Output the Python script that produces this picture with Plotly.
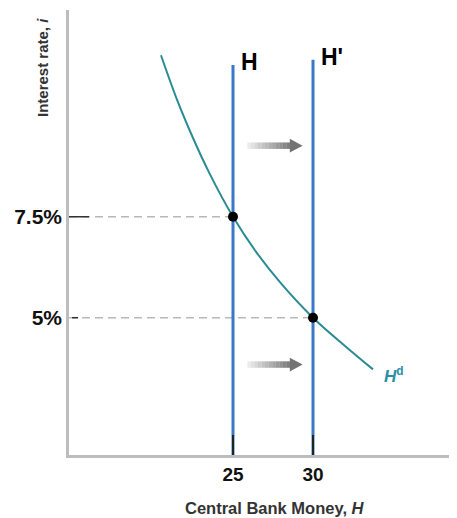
import plotly.graph_objects as go

# ---- data ----
supply_H = [25, 30]              # central bank money supply H, H'
supply_labels = ["H", "H'"]
supply_top = [11.26, 11.39]       # top of the vertical supply lines
eq_rates = [7.5, 5.0]             # equilibrium interest rates
rate_tick_labels = ["7.5%", "5%"]
money_tick_labels = ["25", "30"]

demand_H = [20.5, 21.5, 22.5, 23.5, 25.0, 26.5, 28.0, 30.0, 32.0, 33.75]
demand_i = [11.5, 10.4, 9.45, 8.6, 7.5, 6.6, 5.85, 5.0, 4.3, 3.72]

XR = [14.75, 39.0]
YR = [1.6, 12.62]

BLUE = "#3b78c8"
TEAL = "#2a8c93"
FONT = "Liberation Sans, Arial, sans-serif"

# page body has an 8px margin; the figure is sized so its plot area lands where the reference's is
W, H = 449, 510
ML, MR, MT, MB = 61, 0, 2, 63
PW, PH = W - ML - MR, H - MT - MB

fig = go.Figure()

# dashed guide lines
for h, r in zip(supply_H, eq_rates):
    fig.add_trace(go.Scatter(x=[XR[0], h], y=[r, r], mode="lines",
                             line=dict(color="#b8b8b8", width=1.5, dash="8px,5px"),
                             hoverinfo="skip", showlegend=False))

# supply lines
for h, top in zip(supply_H, supply_top):
    fig.add_trace(go.Scatter(x=[h, h], y=[YR[0], top], mode="lines",
                             line=dict(color=BLUE, width=3),
                             hoverinfo="skip", showlegend=False))

# demand curve
fig.add_trace(go.Scatter(x=demand_H, y=demand_i, mode="lines",
                         line=dict(color=TEAL, width=2, shape="spline", smoothing=1.0),
                         hoverinfo="skip", showlegend=False))

# equilibrium points
fig.add_trace(go.Scatter(x=supply_H, y=eq_rates, mode="markers",
                         marker=dict(color="black", size=10),
                         hoverinfo="skip", showlegend=False))

shapes = []
# y-axis tick marks (long at 7.5%, short dash at 5%)
tick_spans = [(0.0, 20 / PW), (3 / PW, 9 / PW)]
for r, (a, b) in zip(eq_rates, tick_spans):
    shapes.append(dict(type="line", xref="x domain", yref="y", x0=a, x1=b, y0=r, y1=r,
                       line=dict(color="#333333", width=1.5), layer="above"))

# gradient arrows (built from shapes)
arrow_y = [9.26, 3.84]
ax0, ax1, head = 25.9, 29.35, 0.8
half_shaft, half_head = 0.08, 0.17
nseg = 12
for ay in arrow_y:
    shaft_end = ax1 - head
    step = (shaft_end - ax0) / nseg
    for k in range(nseg):
        g = int(235 - (235 - 125) * k / (nseg - 1))
        col = f"rgb({g},{g},{g})"
        shapes.append(dict(type="rect", xref="x", yref="y",
                           x0=ax0 + k * step, x1=ax0 + (k + 1) * step + 0.01,
                           y0=ay - half_shaft, y1=ay + half_shaft,
                           fillcolor=col, line=dict(width=0), layer="above"))
    shapes.append(dict(type="path", xref="x", yref="y",
                       path=f"M {shaft_end} {ay - half_head} L {ax1} {ay} L {shaft_end} {ay + half_head} Z",
                       fillcolor="rgb(115,115,115)", line=dict(width=0), layer="above"))

annotations = []
for h, lab, top in zip(supply_H, supply_labels, supply_top):
    annotations.append(dict(x=h, y=top, xref="x", yref="y", text=f"<b>{lab}</b>",
                            showarrow=False, xanchor="left", yanchor="middle",
                            xshift=6, yshift=3,
                            font=dict(family=FONT, size=23, color="black")))
annotations.append(dict(x=demand_H[-1], y=demand_i[-1], xref="x", yref="y",
                        text="<b><i>H</i><sup>d</sup></b>", showarrow=False,
                        xanchor="left", yanchor="middle", xshift=9, yshift=-6,
                        font=dict(family=FONT, size=17, color="#2a8fa6")))
# rotated y title, centred at page (42, 68)
annotations.append(dict(x=(42 - 8 - ML) / PW, y=1 - (68 - 8 - MT) / PH,
                        xref="paper", yref="paper", xanchor="center", yanchor="middle",
                        text="<b>Interest rate, <i>i</i></b>", textangle=-90,
                        showarrow=False, font=dict(family=FONT, size=15, color="#333333")))
# x title, centred at page (275, 508)
annotations.append(dict(x=(275 - 8 - ML) / PW, y=-(508 - 8 - MT - PH) / PH,
                        xref="paper", yref="paper", xanchor="center", yanchor="middle",
                        text="<b>Central Bank Money, <i>H</i></b>",
                        showarrow=False, font=dict(family=FONT, size=16.5, color="#333333")))

fig.update_layout(
    width=W, height=H,
    margin=dict(l=ML, r=MR, t=MT, b=MB, autoexpand=False),
    paper_bgcolor="white", plot_bgcolor="white",
    shapes=shapes, annotations=annotations,
    showlegend=False,
    xaxis=dict(range=XR, showgrid=False, zeroline=False,
               showline=True, linecolor="#bdbdbd", linewidth=2.5,
               tickvals=supply_H, ticktext=[f"<b>{t}</b>" for t in money_tick_labels],
               ticks="inside", ticklen=20, tickwidth=2, tickcolor="#222",
               tickfont=dict(family=FONT, size=19, color="#111"),
               fixedrange=True),
    yaxis=dict(range=YR, showgrid=False, zeroline=False,
               showline=True, linecolor="#bdbdbd", linewidth=2.5,
               tickvals=eq_rates, ticktext=[f"<b>{t}</b>" for t in rate_tick_labels],
               ticks="", tickfont=dict(family=FONT, size=21, color="#111"),
               fixedrange=True),
)

fig.write_html("out.html")
